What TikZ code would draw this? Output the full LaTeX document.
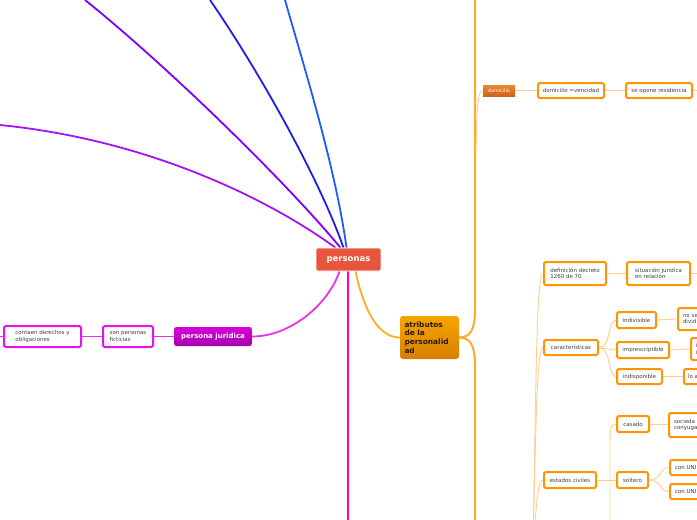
\documentclass[tikz,border=0pt]{standalone}
\usepackage{fontspec}
\setmainfont{DejaVu Sans}
\definecolor{persred}{RGB}{232,85,62}
\definecolor{purpL}{RGB}{160,20,245}
\definecolor{purpA}{RGB}{125,0,255}
\definecolor{blueB}{RGB}{30,30,230}
\definecolor{blueC}{RGB}{30,90,255}
\definecolor{magV}{RGB}{255,0,210}
\definecolor{magJ}{RGB}{232,50,232}
\definecolor{boxmag}{RGB}{230,20,230}
\definecolor{trunkor}{RGB}{255,170,40}
\definecolor{boxor}{RGB}{255,150,0}
\definecolor{thinor}{RGB}{255,205,140}
\definecolor{atrtop}{RGB}{248,165,0}
\definecolor{atrbot}{RGB}{215,128,0}
\definecolor{domtop}{RGB}{235,135,50}
\definecolor{dombot}{RGB}{205,100,25}
\definecolor{jurtop}{RGB}{215,0,215}
\definecolor{jurbot}{RGB}{165,0,175}
\pgfdeclarelayer{bg}
\pgfsetlayers{bg,main}
\begin{document}
\begin{tikzpicture}[x=1pt,y=-1pt,
  obox/.style={draw=boxor, line width=2pt, rounded corners=1.5pt, fill=white,
     font=\fontsize{5.5}{6.6}\selectfont, text=black!75, align=left,
     inner xsep=3.5pt, inner ysep=1.5pt},
  mbox/.style={obox, draw=boxmag},
  lnk/.style={draw=thinor, line width=0.9pt},
  plink/.style={line width=1.8pt}]
\useasboundingbox (0,0) rectangle (697,520);
\clip (0,0) rectangle (697,520);

% central nodes
\node[fill=persred, rounded corners=2pt, text=white, font=\bfseries\fontsize{8.5}{10}\selectfont,
      minimum width=65pt, minimum height=23pt, draw=white, line width=0.6pt] (pers) at (348.5,259.5) {personas};
\node[top color=atrtop, bottom color=atrbot, rounded corners=3pt, text=black!80!brown,
      font=\bfseries\fontsize{7.4}{8.6}\selectfont, align=left, text width=50pt,
      minimum width=59pt, minimum height=43pt, inner xsep=4pt] (atrib) at (429.5,337.5)
      {atributos\\de la\\personalid\\ad};
\node[top color=jurtop, bottom color=jurbot, rounded corners=2.5pt, text=white,
      font=\bfseries\fontsize{7}{8}\selectfont, minimum width=78pt, minimum height=19pt] (jur) at (213,336.5) {persona juridica};
\node[mbox, minimum width=50pt, minimum height=21pt] (fict) at (128,336.5) {son personas\\ficticias};
\node[mbox, minimum width=77pt, minimum height=21pt] (cont) at (42.5,336.5) {contaen derechos y\\obligaciones};

% right side
\node[top color=domtop, bottom color=dombot, text=white, font=\fontsize{4.8}{5}\selectfont,
      minimum width=32pt, minimum height=11pt, inner sep=1pt] (dom) at (499,90.5) {domicilio};
\node[obox, minimum width=66pt, minimum height=15pt] (domv) at (571,90.5) {domicilio =vencidad};
\node[obox, minimum width=66pt, minimum height=15pt] (opone) at (659,90.5) {se opone residencia};

\node[obox, minimum width=62pt, minimum height=23pt] (def) at (575,273.5) {definición decreto\\1260 de 70};
\node[obox, minimum width=63pt, minimum height=23pt] (sit) at (658.5,273.5) {situación jurídica\\en relación};

\node[obox, minimum width=54pt, minimum height=15pt] (car) at (571,347.5) {características};
\node[obox, minimum width=39pt, minimum height=16pt] (indiv) at (636.5,320) {indivisible};
\node[obox, minimum width=40pt, minimum height=22pt, anchor=west, text width=30pt] (nose) at (677,319) {no se\\divid};
\node[obox, minimum width=52pt, minimum height=16pt] (impr) at (643,350) {imprescriptible};
\node[obox, minimum width=30pt, minimum height=22pt, anchor=west, text width=20pt] (ibox) at (690,349) {i\\i};
\node[obox, minimum width=45pt, minimum height=15pt] (indisp) at (639.5,376.5) {indisponible};
\node[obox, minimum width=30pt, minimum height=15pt, anchor=west, text width=22pt] (loa) at (683,376.5) {lo a};

\node[obox, minimum width=52pt, minimum height=16pt] (est) at (570,480) {estados civiles};
\node[obox, minimum width=32pt, minimum height=16pt] (cas) at (633,424) {casado};
\node[obox, minimum width=40pt, minimum height=24pt, anchor=west, text width=30pt] (soc) at (668,425) {socieda\\conyuga};
\node[obox, minimum width=31pt, minimum height=16pt] (solt) at (632.5,480) {soltero};
\node[obox, minimum width=40pt, minimum height=15pt, anchor=west, text width=30pt] (con1) at (669,467.5) {con UNI};
\node[obox, minimum width=40pt, minimum height=15pt, anchor=west, text width=30pt] (con2) at (669,491.5) {con UNI};

% free ends
\coordinate (eL) at (0,125);
\coordinate (eA) at (85,0);
\coordinate (eB) at (210,0);
\coordinate (eC) at (285,0);
\coordinate (eV) at (348,520);
\coordinate (tTop) at (475,0);
\coordinate (tBot) at (475,520);
\coordinate (eDom) at (697,90.5);
\coordinate (eSit) at (697,273.5);
\coordinate (eLeft) at (0,336.5);
\coordinate (sp) at (533,545);
\coordinate (estBot) at (610,520);

\begin{pgfonlayer}{bg}
\draw[plink, purpL] ([xshift=-13pt]pers.north) .. controls (270,200) and (150,140) .. (eL);
\draw[plink, purpA] ([xshift=-8pt]pers.north) .. controls (280,175) and (160,60) .. (eA);
\draw[plink, blueB] ([xshift=-5pt]pers.north) .. controls (318,175) and (255,65) .. (eB);
\draw[plink, blueC] ([xshift=-2pt]pers.north) .. controls (336,170) and (305,70) .. (eC);
\draw[line width=2.2pt, magV] ([xshift=-0.5pt]pers.south) -- (eV);
\draw[plink, magJ] ([xshift=-9pt]pers.south) .. controls (328,305) and (290,336.5) .. (jur.east);
\draw[plink, trunkor] ([xshift=7pt]pers.south) .. controls (365,315) and (380,337.5) .. (atrib.west);
\draw[line width=1pt, magJ] (jur.west) -- (fict.east);
\draw[line width=1pt, magJ] (fict.west) -- (cont.east);
\draw[line width=1pt, magJ] (cont.west) -- (eLeft);
% trunk
\draw[line width=2pt, trunkor] (atrib.east) .. controls (470,337.5) and (475,330) .. (475,310) -- (tTop);
\draw[line width=2pt, trunkor] (atrib.east) .. controls (470,337.5) and (475,345) .. (475,365) -- (tBot);
\draw[lnk] (476,150) .. controls (477,105) and (478,90.5) .. (dom.west);
\draw[lnk] (dom.east) -- (domv.west);
\draw[lnk] (domv.east) -- (opone.west);
\draw[lnk] (opone.east) -- (eDom);
% spine to right group
\draw[lnk] (sp) .. controls (536,400) and (536,273.5) .. (def.west);
\draw[lnk] (sp) .. controls (536,420) and (537,347.5) .. (car.west);
\draw[lnk] (sp) .. controls (537,500) and (538,480) .. (est.west);
\draw[lnk] (def.east) -- (sit.west);
\draw[lnk] (sit.east) -- (eSit);
\draw[lnk] (car.east) .. controls (611,347.5) and (608,320) .. (indiv.west);
\draw[lnk] (car.east) -- (impr.west);
\draw[lnk] (car.east) .. controls (611,347.5) and (608,376.5) .. (indisp.west);
\draw[lnk] (indiv.east) -- (nose.west);
\draw[lnk] (impr.east) -- (ibox.west);
\draw[lnk] (indisp.east) -- (loa.west);
\draw[lnk] (est.east) -- (solt.west);
\draw[lnk] (estBot) -- (610,440) .. controls (610,426) and (612,424) .. (cas.west);
\draw[lnk] (cas.east) -- (cas.east -| soc.west);
\draw[lnk] (solt.east) .. controls (662,480) and (659,467.5) .. (con1.west);
\draw[lnk] (solt.east) .. controls (662,480) and (659,491.5) .. (con2.west);
\end{pgfonlayer}
\end{tikzpicture}
\end{document}
